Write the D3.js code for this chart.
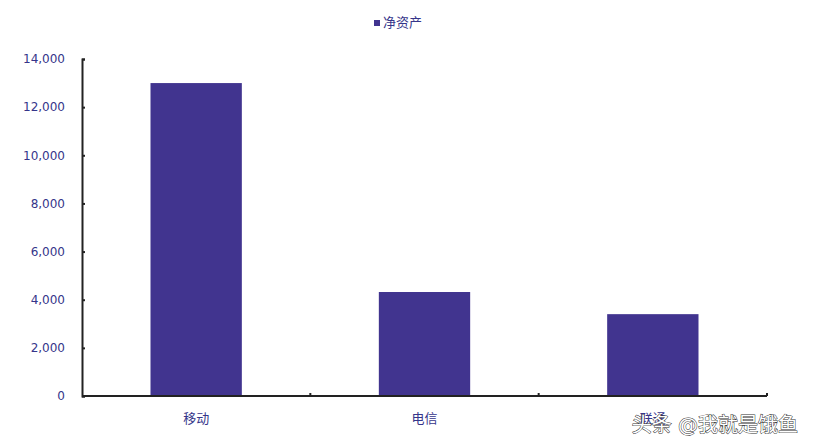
<!DOCTYPE html>
<html>
<head>
<meta charset="utf-8">
<script src="https://cdn.jsdelivr.net/npm/d3@7"></script>
<style>
  body { margin: 0; background: #fff; }
  text { font-family: "DejaVu Sans", "Noto Sans CJK SC", sans-serif; }
</style>
</head>
<body>
<div id="chart"></div>
<script>
// chart data
var categories = ["移动", "电信", "联通"];
var netAssets = [13000, 4320, 3400];
var yTicks = [0, 2000, 4000, 6000, 8000, 10000, 12000, 14000];
var seriesName = "净资产";

var svgWidth = 813;
var svgHeight = 447;

var margin = { top: 59, right: 46, bottom: 51, left: 82 };
var chartWidth = svgWidth - margin.left - margin.right;
var chartHeight = svgHeight - margin.top - margin.bottom;

var labelColor = "#35358a";
var barColor = "#41348f";

var svg = d3.select("#chart")
  .append("svg")
  .attr("width", svgWidth)
  .attr("height", svgHeight);

var chartGroup = svg.append("g")
  .attr("transform", `translate(${margin.left}, ${margin.top})`);

var xScale = d3.scaleBand()
  .domain(categories)
  .range([0, chartWidth])
  .paddingInner(0.6)
  .paddingOuter(0.3);

var yScale = d3.scaleLinear()
  .domain([0, 14000])
  .range([chartHeight, 0]);

// bars
chartGroup.selectAll("rect.bar")
  .data(netAssets)
  .enter()
  .append("rect")
  .attr("class", "bar")
  .attr("x", (d, i) => xScale(categories[i]))
  .attr("y", d => yScale(d))
  .attr("width", xScale.bandwidth())
  .attr("height", d => chartHeight - yScale(d))
  .attr("fill", barColor);

// left axis, ticks pointing inward
var leftAxis = d3.axisRight(yScale)
  .tickValues(yTicks)
  .tickSize(3)
  .tickFormat(d3.format(","));

var yAxisG = chartGroup.append("g").call(leftAxis);
yAxisG.select(".domain").attr("stroke", "#222").attr("stroke-width", 2);
yAxisG.selectAll(".tick line").attr("stroke", "#222").attr("stroke-width", 2);
yAxisG.selectAll(".tick text")
  .attr("x", -17)
  .attr("text-anchor", "end")
  .attr("fill", labelColor)
  .attr("font-size", "12px");

// bottom axis
var xAxisG = chartGroup.append("g")
  .attr("transform", `translate(0, ${chartHeight})`);

xAxisG.append("line")
  .attr("x1", 0)
  .attr("x2", chartWidth)
  .attr("stroke", "#222")
  .attr("stroke-width", 2);

// category separator ticks
var sepTicks = d3.range(1, categories.length + 1).map(i => xScale.step() * i);
xAxisG.selectAll("line.sep")
  .data(sepTicks)
  .enter()
  .append("line")
  .attr("class", "sep")
  .attr("x1", d => d)
  .attr("x2", d => d)
  .attr("y1", 0)
  .attr("y2", -3)
  .attr("stroke", "#222")
  .attr("stroke-width", 2);

xAxisG.selectAll("text.cat")
  .data(categories)
  .enter()
  .append("text")
  .attr("class", "cat")
  .attr("x", d => xScale(d) + xScale.bandwidth() / 2)
  .attr("y", 27)
  .attr("text-anchor", "middle")
  .attr("fill", labelColor)
  .attr("font-size", "13px")
  .text(d => d);

// legend
var legend = svg.append("g")
  .attr("transform", "translate(374, 24)");

legend.append("rect")
  .attr("x", 0)
  .attr("y", -4)
  .attr("width", 6)
  .attr("height", 6)
  .attr("fill", barColor);

legend.append("text")
  .attr("x", 9)
  .attr("y", 3)
  .attr("fill", labelColor)
  .attr("font-size", "13px")
  .text(seriesName);

// watermark
svg.append("text")
  .attr("x", 798)
  .attr("y", 432)
  .attr("text-anchor", "end")
  .attr("font-size", "20px")
  .attr("fill", "#fff")
  .attr("stroke", "#333")
  .attr("stroke-width", 1)
  .attr("paint-order", "stroke")
  .text("头条 @我就是饿鱼");
</script>
</body>
</html>
